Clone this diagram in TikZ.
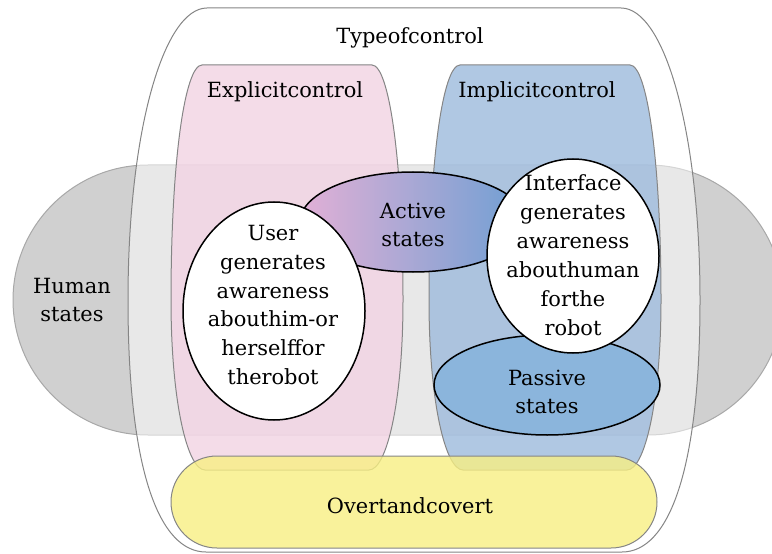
\documentclass[tikz,border=0pt]{standalone}
\usepackage{fontspec}
\setmainfont{DejaVu Serif}
\usetikzlibrary{shapes.geometric}

\definecolor{humangray}{HTML}{D0D0D0}
\definecolor{humanedge}{HTML}{A8A8A8}
\definecolor{frameedge}{HTML}{858585}
\definecolor{explicitfill}{HTML}{F2D3E3}
\definecolor{implicitfill}{HTML}{9DBADC}
\definecolor{overtfill}{HTML}{F8F083}
\definecolor{activeleft}{HTML}{E2B0D6}
\definecolor{activeright}{HTML}{6E9FD3}
\definecolor{passivefill}{HTML}{8BB5DC}

\tikzset{
  txt/.style={align=center, inner sep=0pt},
  frame/.style={draw=frameedge, line width=1bp},
  bubble/.style={ellipse, draw=black, line width=1.5bp, inner sep=0pt, align=center},
}

\begin{document}
\begin{tikzpicture}[x=1bp, y=-1bp, font=\fontsize{21}{29}\selectfont]
\useasboundingbox (0,0) rectangle (772,554);
\clip (0,0) rectangle (772,554);

% human states band
\draw[draw=humanedge, fill=humangray, line width=1bp, rounded corners=135bp]
  (13,165) rectangle (783,435);

% type of control frame
\begin{scope}[shift={(414,0)}]
  \draw[frame, fill=white, fill opacity=0.52]
    (-207,8) -- (207,8) .. controls (250,8) and (286,130) .. (286,300)
    .. controls (286,470) and (255,552) .. (208,552) -- (-208,552)
    .. controls (-255,552) and (-286,470) .. (-286,300)
    .. controls (-286,130) and (-250,8) .. (-207,8) -- cycle;
\end{scope}

% explicit control
\begin{scope}[shift={(287,0)}]
  \draw[frame, fill=explicitfill, fill opacity=0.8]
    (-85,65) -- (85,65) .. controls (102,65) and (116,160) .. (116,300)
    .. controls (116,400) and (100,470) .. (82,470) -- (-82,470)
    .. controls (-100,470) and (-116,400) .. (-116,300)
    .. controls (-116,160) and (-102,65) .. (-85,65) -- cycle;
\end{scope}

% implicit control
\begin{scope}[shift={(545,0)}]
  \draw[frame, fill=implicitfill, fill opacity=0.8]
    (-85,65) -- (85,65) .. controls (102,65) and (116,160) .. (116,300)
    .. controls (116,400) and (100,470) .. (82,470) -- (-82,470)
    .. controls (-100,470) and (-116,400) .. (-116,300)
    .. controls (-116,160) and (-102,65) .. (-85,65) -- cycle;
\end{scope}

% overt and covert
\draw[frame, fill=overtfill, fill opacity=0.8, rounded corners=46bp]
  (171,456) rectangle (657,548);

% group titles
\node[txt] (typeofcontrol) at (410,38) {Typeofcontrol};
\node[txt] (explicit) at (285,92) {Explicitcontrol};
\node[txt] (implicit) at (537,92) {Implicitcontrol};
\node[txt] (human) at (72,300) {Human\\states};
\node[txt] (overt) at (410,506) {Overtandcovert};

% states
\node[bubble, left color=activeleft, right color=activeright,
      minimum width=226bp, minimum height=100bp] (active) at (413,222) {};
\node[txt] (activetext) at (413,225) {Active\\states};

\node[bubble, fill=passivefill, minimum width=226bp, minimum height=100bp]
  (passive) at (547,385) {};
\node[txt] (passivetext) at (547,392) {Passive\\states};

\node[bubble, fill=white, minimum width=182bp, minimum height=218bp]
  (user) at (274,311) {};
\node[txt] (usertext) at (273,305)
  {User\\generates\\awareness\\abouthim-or\\herselffor\\therobot};

\node[bubble, fill=white, minimum width=172bp, minimum height=194bp]
  (interface) at (573,256) {};
\node[txt] (interfacetext) at (573,255)
  {Interface\\generates\\awareness\\abouthuman\\forthe\\robot};
\end{tikzpicture}
\end{document}
